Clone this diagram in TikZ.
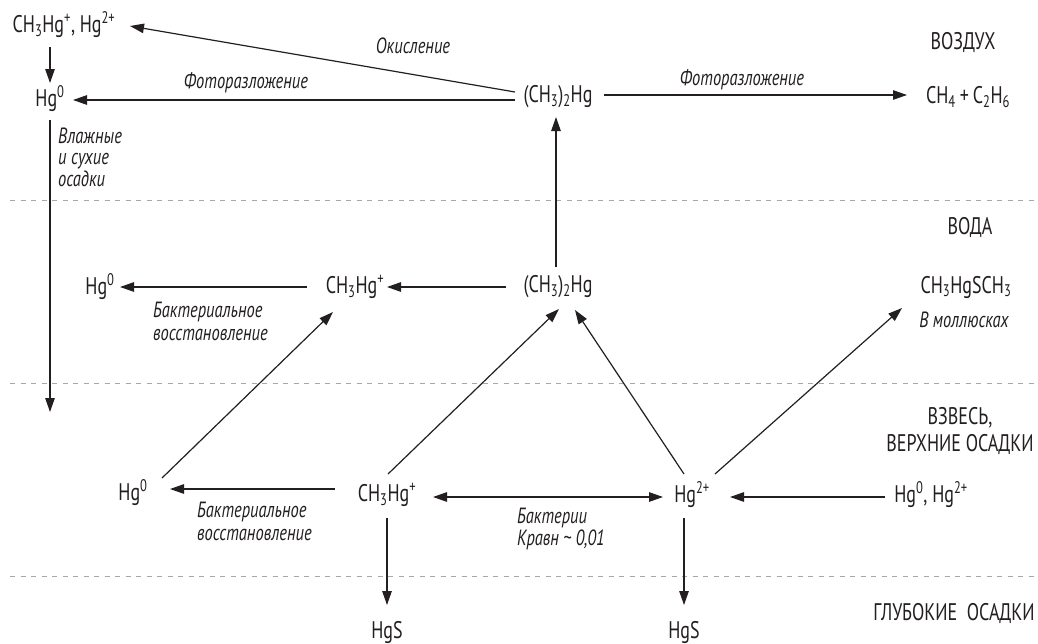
\documentclass[tikz,border=0pt]{standalone}
\usepackage{fontspec}
\setmainfont{PT Sans}[FakeStretch=0.75]
\usetikzlibrary{arrows.meta}
\definecolor{ink}{HTML}{231F20}
\definecolor{sepgray}{HTML}{A8A8A8}
\newcommand{\dn}[1]{\textsubscript{#1}}
\newcommand{\up}[1]{\textsuperscript{#1}}
\begin{document}
\begin{tikzpicture}[x=1pt,y=-1pt,
  chem/.style={inner sep=0pt, text=ink, font=\fontsize{24}{27}\selectfont},
  zone/.style={inner sep=0pt, text=ink, font=\fontsize{24}{27}\selectfont, align=center},
  lbl/.style={inner sep=0pt, text=ink, font=\fontsize{22}{22.5}\selectfont\itshape},
  lblL/.style={inner sep=0pt, text=ink, anchor=west, align=left, font=\fontsize{22}{22.5}\selectfont\itshape},
  arr/.style={draw=ink, line width=1.2pt, -{Triangle[length=14pt,width=9.5pt]}},
  biarr/.style={draw=ink, line width=1.2pt, {Triangle[length=14pt,width=9.5pt]}-{Triangle[length=14pt,width=9.5pt]}},
  sepline/.style={draw=sepgray, line width=1pt, dash pattern=on 5pt off 5.5pt}]
\useasboundingbox (0,0) rectangle (1038,643);
\fill[white] (0,0) rectangle (1038,643);

% separators
\draw[sepline] (10,200) -- (1038,200);
\draw[sepline] (10,383) -- (1038,383);
\draw[sepline] (10,576) -- (1038,576);

% air
\node[chem] (n1) at (64,25) {CH\dn{3}Hg\up{+}, Hg\up{2+}};
\node[chem] (hgA) at (50,99) {Hg\up{0}};
\node[chem] (dmA) at (558,97) {(CH\dn{3})\dn{2}Hg};
\node[chem] (ch4) at (968,97) {CH\dn{4}\,+\,C\dn{2}H\dn{6}};
\node[zone] (air) at (963,43) {ВОЗДУХ};

\node[lbl] (lox) at (413,46) {Окисление};
\node[lbl] (lph1) at (246,83) {Фоторазложение};
\node[lbl] (lph2) at (742,80) {Фоторазложение};
\node[lblL, font=\fontsize{22}{21.5}\selectfont\itshape] (ldep) at (58,157) {Влажные\\и сухие\\осадки};

% water
\node[zone] (water) at (970,227) {ВОДА};
\node[chem] (hgW) at (100,287) {Hg\up{0}};
\node[chem] (meW) at (355,287) {CH\dn{3}Hg\up{+}};
\node[chem] (dmW) at (558,287) {(CH\dn{3})\dn{2}Hg};
\node[chem] (msm) at (966,287) {CH\dn{3}HgSCH\dn{3}};
\node[lbl] (lmol) at (964,320) {В моллюсках};
\node[lblL] (lbw) at (153,321.5) {Бактериальное\\восстановление};

% suspension / upper sediments
\node[zone] (susp) at (960,431) {ВЗВЕСЬ,\\ВЕРХНИЕ ОСАДКИ};
\node[chem] (hgS) at (133,493) {Hg\up{0}};
\node[chem] (meS) at (387,495) {CH\dn{3}Hg\up{+}};
\node[chem] (hg2) at (692,495) {Hg\up{2+}};
\node[chem] (hgr) at (931,495) {Hg\up{0}, Hg\up{2+}};
\node[lblL] (lbs) at (197,521.5) {Бактериальное\\восстановление};
\node[lblL] (lbk) at (517,529) {Бактерии\\Кравн \textasciitilde\ 0,01};

% deep sediments
\node[zone] (deep) at (954,613) {ГЛУБОКИЕ\ \ ОСАДКИ};
\node[chem] (hs1) at (387,632) {HgS};
\node[chem] (hs2) at (684,632) {HgS};
\coordinate (dep) at (50,412);

% connectors
\draw[arr] ([shift={(-43,-5)}]dmA.center) -- ([shift={(66,1)}]n1.center);
\draw[arr] ([shift={(-14,22)}]n1.center) -- ([shift={(0,-16)}]hgA.center);
\draw[arr] ([shift={(-43,3)}]dmA.center) -- ([shift={(23,1)}]hgA.center);
\draw[arr] ([shift={(46,-2)}]dmA.center) -- ([shift={(-61,-2)}]ch4.center);
\draw[arr] ([shift={(0,21)}]hgA.center) -- (dep);

\draw[arr] ([shift={(-2,-20)}]dmW.center) -- ([shift={(-2,20)}]dmA.center);
\draw[arr] ([shift={(-52,0)}]dmW.center) -- ([shift={(32,0)}]meW.center);
\draw[arr] ([shift={(-48,0)}]meW.center) -- ([shift={(20,0)}]hgW.center);

\draw[arr] ([shift={(29,-15)}]hgS.center) -- ([shift={(-22,25)}]meW.center);
\draw[arr] ([shift={(1,-21)}]meS.center) -- ([shift={(1,22)}]dmW.center);
\draw[arr] ([shift={(-8,-21)}]hg2.center) -- ([shift={(17,23)}]dmW.center);
\draw[arr] ([shift={(23,-21)}]hg2.center) -- ([shift={(-64,21)}]msm.center);
\draw[biarr] ([shift={(46,2)}]meS.center) -- ([shift={(-29,2)}]hg2.center);
\draw[arr] ([shift={(-46,2)}]hgr.center) -- ([shift={(38,2)}]hg2.center);
\draw[arr] ([shift={(-52,-6)}]meS.center) -- ([shift={(37,-4)}]hgS.center);

\draw[arr] ([shift={(0,23)}]meS.center) -- ([shift={(0,-27)}]hs1.center);
\draw[arr] ([shift={(-8,23)}]hg2.center) -- ([shift={(0,-27)}]hs2.center);
\end{tikzpicture}
\end{document}
